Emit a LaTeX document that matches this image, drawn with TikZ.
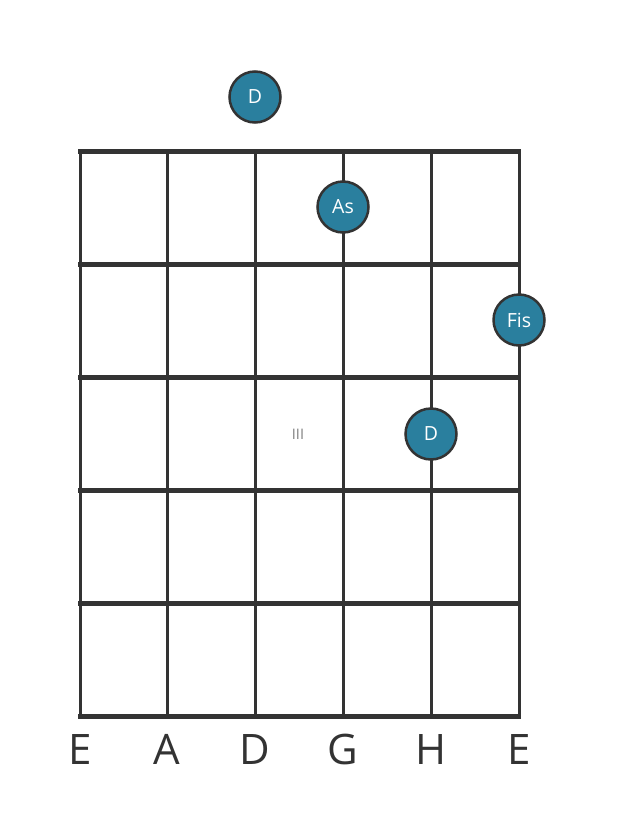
\documentclass[tikz,border=0pt]{standalone}
\usepackage{fontspec}
\setmainfont{Open Sans}
\definecolor{gridline}{HTML}{333333}
\definecolor{notefill}{HTML}{2A7F9E}
\begin{document}
\begin{tikzpicture}[x=1pt,y=-1pt,
  fret/.style={draw=gridline, line width=5pt},
  gstring/.style={draw=gridline, line width=3pt},
  note/.style={circle, draw=gridline, line width=2.5pt, fill=notefill, minimum size=51pt, inner sep=0pt, text=white, font=\fontsize{19.5}{19.5}\selectfont},
  slabel/.style={text=gridline, font=\fontsize{42}{42}\selectfont},
  fretpos/.style={text=gray, font=\fontsize{14.5}{14.5}\selectfont}]
\useasboundingbox[fill=white] (0,0) rectangle (617,835);
% strings
\foreach \x in {80,167,255,343,431,519}
  \draw[gstring] (\x,151) -- (\x,716);
% frets
\foreach \y in {151,264,377,490,603,716}
  \draw[fret] (78,\y) -- (521,\y);
\node[fretpos] (iii) at (298,434) {III};
\node[note] (n1) at (255,97) {D};
\node[note] (n2) at (343,207) {As};
\node[note] (n3) at (519,320) {Fis};
\node[note] (n4) at (431,434) {D};
\foreach \x/\t/\n in {80/E/l1,167/A/l2,255/D/l3,343/G/l4,431/H/l5,519/E/l6}
  \node[slabel] (\n) at (\x,749) {\t};
\end{tikzpicture}
\end{document}
